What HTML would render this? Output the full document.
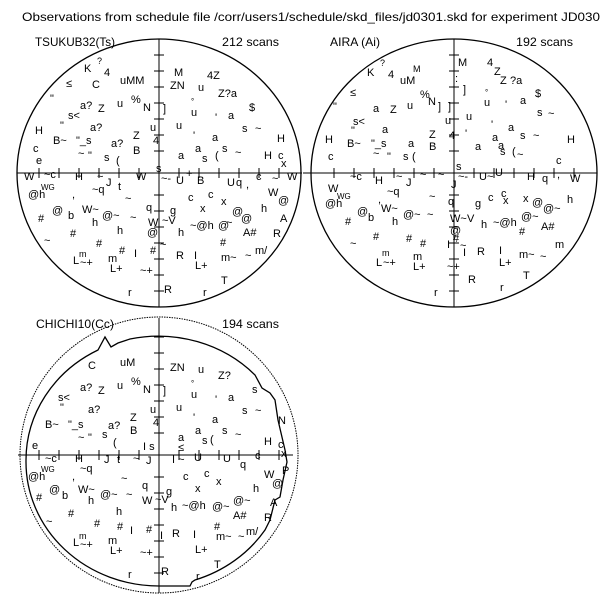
<!DOCTYPE html>
<html><head><meta charset="utf-8"><style>
html,body{margin:0;padding:0;background:#fff;}
svg{display:block;}
text{font-family:"Liberation Sans",sans-serif;fill:#000;}
.t{font-size:12px;}
.s{font-size:11px;}
</style></head><body>
<svg width="600" height="600" viewBox="0 0 600 600" xmlns="http://www.w3.org/2000/svg">
<rect width="600" height="600" fill="#fff"/>
<text class="t" x="22" y="21" textLength="578" lengthAdjust="spacingAndGlyphs">Observations from schedule file /corr/users1/schedule/skd_files/jd0301.skd for experiment JD030</text>
<text class="t" x="35" y="46" textLength="80" lengthAdjust="spacingAndGlyphs">TSUKUB32(Ts)</text>
<text class="t" x="222" y="46" textLength="57" lengthAdjust="spacingAndGlyphs">212 scans</text>
<text class="t" x="330" y="46" textLength="50" lengthAdjust="spacingAndGlyphs">AIRA (Ai)</text>
<text class="t" x="516" y="46" textLength="57" lengthAdjust="spacingAndGlyphs">192 scans</text>
<text class="t" x="36" y="328" textLength="78" lengthAdjust="spacingAndGlyphs">CHICHI10(Cc)</text>
<text class="t" x="222" y="328" textLength="57" lengthAdjust="spacingAndGlyphs">194 scans</text>

<!-- circles -->
<ellipse cx="159" cy="173" rx="142" ry="134" fill="none" stroke="#000" stroke-width="1.3"/>
<ellipse cx="454" cy="173" rx="143" ry="134" fill="none" stroke="#000" stroke-width="1.3"/>
<ellipse cx="159" cy="455" rx="139" ry="138" fill="none" stroke="#000" stroke-width="1" stroke-dasharray="1.5 1"/>
<path d="M26,461 A133,124 0 0 1 98,350 L105,337 L111,347 L118,343 L130,339 A133,124 0 0 1 255,375 L262,388 L270,393 L275,400 L278,420 L285,450 L287,462 L283,480 L280,497 L275,500 L270,520 L265,530 A133,124 0 0 1 195,580 L192,582 L190,586 L159,586 A133,124 0 0 1 26,461 Z" fill="none" stroke="#000" stroke-width="1.3"/>

<!-- axes -->
<g stroke="#000" stroke-width="1">
<line x1="159" y1="39" x2="159" y2="307"/><line x1="17" y1="173" x2="302" y2="173"/>
<line x1="454" y1="39" x2="454" y2="307"/><line x1="303" y1="173" x2="597" y2="173"/>
<line x1="159" y1="318" x2="159" y2="593"/><line x1="18" y1="455" x2="293" y2="455"/>
</g>
<g stroke="#000" stroke-width="1">
<path d="M154,55h10M154,71h10M154,87h10M154,103h10M154,119h10M154,135h10M154,151h10M154,195h10M154,211h10M154,227h10M154,243h10M154,259h10M154,275h10M154,291h10M39,168v10M59,168v10M79,168v10M99,168v10M119,168v10M139,168v10M179,168v10M199,168v10M219,168v10M239,168v10M259,168v10M279,168v10"/>
<path transform="translate(295,0)" d="M154,55h10M154,71h10M154,87h10M154,103h10M154,119h10M154,135h10M154,151h10M154,195h10M154,211h10M154,227h10M154,243h10M154,259h10M154,275h10M154,291h10M39,168v10M59,168v10M79,168v10M99,168v10M119,168v10M139,168v10M179,168v10M199,168v10M219,168v10M239,168v10M259,168v10M279,168v10"/>
<path transform="translate(0,282)" d="M154,55h10M154,71h10M154,87h10M154,103h10M154,119h10M154,135h10M154,151h10M154,195h10M154,211h10M154,227h10M154,243h10M154,259h10M154,275h10M154,291h10M39,168v10M59,168v10M79,168v10M99,168v10M119,168v10M139,168v10M179,168v10M199,168v10M219,168v10M239,168v10M259,168v10M279,168v10"/>
</g>

<!-- symbols circle 1 -->
<g class="s">
<text x="84" y="72">K</text><text x="97" y="64" font-size="9">?</text><text x="104" y="76">4</text><text x="120" y="84">uMM</text><text x="174" y="76">M</text>
<text x="66" y="87">≤</text><text x="92" y="88">C</text><text x="50" y="102">"</text><text x="80" y="109">a?</text><text x="98" y="112">Z</text><text x="117" y="107">u</text><text x="131" y="103">%</text><text x="143" y="111">N</text><text x="163" y="112">]</text>
<text x="170" y="89">ZN</text><text x="198" y="91">u</text><text x="207" y="79">4Z</text><text x="218" y="97">Z?a</text><text x="191" y="104" font-size="8">°</text><text x="191" y="116">u</text><text x="215" y="121">'</text><text x="228" y="119">a</text><text x="249" y="111">$</text>
<text x="35" y="134">H</text><text x="60" y="129">"</text><text x="68" y="119">s&lt;</text><text x="90" y="131">a?</text><text x="150" y="131">u</text><text x="176" y="129">u</text><text x="242" y="132">s</text><text x="255" y="132">~</text>
<text x="53" y="144">B~</text><text x="76" y="144">"_s</text><text x="111" y="147">a?</text><text x="133" y="139">Z</text><text x="153" y="144">4</text><text x="193" y="139">'</text><text x="212" y="141">a</text><text x="277" y="142">H</text>
<text x="33" y="152">c</text><text x="78" y="157">~</text><text x="88" y="159">"</text><text x="104" y="161">s</text><text x="116" y="164">(</text><text x="133" y="154">B</text><text x="178" y="159">a</text><text x="195" y="152">a</text><text x="202" y="162">s</text><text x="215" y="159">(</text><text x="222" y="152">s</text><text x="235" y="156">~</text><text x="264" y="159">H</text><text x="278" y="159">c</text>
<text x="36" y="164">e</text><text x="281" y="167">x</text>
<text x="24" y="180">W</text><text x="44" y="178">~c</text><text x="75" y="180">H</text><text x="97" y="180">~</text><text x="106" y="186">J</text><text x="118" y="190">t</text><text x="136" y="180">W</text><text x="156" y="172">s</text><text x="161" y="182">~-</text><text x="176" y="184">U</text><text x="186" y="177">+</text><text x="197" y="184">B</text><text x="227" y="186">U</text><text x="236" y="186">q</text><text x="246" y="188">,</text><text x="256" y="180">c</text><text x="272" y="182">~</text><text x="287" y="180">W</text>
<text x="28" y="198">@h</text><text x="41" y="190" font-size="8">WG</text><text x="72" y="198">,</text><text x="92" y="193">~q</text><text x="125" y="202">~</text><text x="146" y="211">q</text><text x="170" y="214">g</text><text x="188" y="201">c</text><text x="208" y="198">c</text><text x="200" y="212">x</text><text x="221" y="205">x</text><text x="261" y="212">h</text><text x="268" y="196">W</text><text x="278" y="204">@</text>
<text x="38" y="222">#</text><text x="52" y="214">@</text><text x="68" y="219">b</text><text x="82" y="213">W~</text><text x="92" y="226">h</text><text x="102" y="219">@~</text><text x="130" y="221">~</text><text x="148" y="226">W</text><text x="162" y="224">~V</text><text x="178" y="236">h</text><text x="190" y="229">~@h</text><text x="218" y="229">@</text><text x="226" y="226">~</text><text x="241" y="222">@</text><text x="232" y="215">@</text><text x="280" y="222">A</text>
<text x="44" y="244">~</text><text x="70" y="237">#</text><text x="117" y="234">h</text><text x="96" y="247">#</text><text x="119" y="254">#</text><text x="150" y="254">#</text><text x="147" y="236">@</text><text x="134" y="257">I</text><text x="176" y="259">R</text><text x="194" y="259">I</text><text x="221" y="261">m~</text><text x="245" y="259">~</text><text x="255" y="254">m/</text><text x="243" y="236">A#</text><text x="273" y="237">R</text><text x="220" y="246">#</text><text x="160" y="248">~</text>
<text x="73" y="264">L</text><text x="79" y="257" font-size="9">m</text><text x="80" y="266">~+</text><text x="108" y="262">m</text><text x="110" y="272">L+</text><text x="140" y="274">~+</text><text x="195" y="269">L+</text><text x="221" y="284">T</text><text x="164" y="293">R</text><text x="128" y="296">r</text><text x="203" y="296">r</text>
</g>

<!-- symbols circle 2 -->
<g class="s" transform="translate(295,0)">
<text x="72" y="76">K</text><text x="85" y="66" font-size="9">?</text><text x="93" y="78">4</text><text x="105" y="84">uM</text><text x="118" y="72" font-size="9">M</text><text x="163" y="66">M</text><text x="160" y="82">:</text>
<text x="55" y="96">≤</text><text x="38" y="110">"</text><text x="78" y="112">a</text><text x="95" y="113">Z</text><text x="112" y="109">u</text><text x="125" y="98">%</text><text x="133" y="105">N</text><text x="143" y="110">]</text><text x="153" y="110">]</text><text x="168" y="93">]</text>
<text x="192" y="66">4</text><text x="199" y="75">Z</text><text x="205" y="84">Z</text><text x="215" y="84">?a</text><text x="190" y="95" font-size="8">°</text><text x="189" y="106">u</text><text x="210" y="108">'</text><text x="225" y="104">a</text><text x="240" y="97">$</text><text x="242" y="116">s</text><text x="253" y="117">~</text>
<text x="58" y="125">s&lt;</text><text x="56" y="134">"</text><text x="87" y="133">a</text><text x="150" y="124">u</text><text x="171" y="120">u</text><text x="196" y="128">'</text><text x="213" y="131">a</text>
<text x="30" y="143">H</text><text x="52" y="147">B~</text><text x="76" y="147">"_s</text><text x="113" y="147">a</text><text x="134" y="138">Z</text><text x="154" y="139">4</text><text x="170" y="137">'</text><text x="197" y="141">a</text><text x="225" y="139">s</text><text x="238" y="139">~</text><text x="272" y="143">H</text>
<text x="33" y="160">c</text><text x="78" y="157">~</text><text x="92" y="160">"</text><text x="108" y="160">s</text><text x="117" y="160">(</text><text x="134" y="150">B</text><text x="180" y="150">a</text><text x="203" y="149">a</text><text x="205" y="155">s</text><text x="217" y="155">(</text><text x="222" y="158">~</text><text x="261" y="164">c</text>
<text x="33" y="192">W</text><text x="55" y="180">~c</text><text x="80" y="184">H</text><text x="101" y="180">~</text><text x="111" y="186">J</text><text x="125" y="178">~</text><text x="143" y="178">~</text><text x="161" y="170">s</text><text x="163" y="180">~-</text><text x="184" y="180">U~</text><text x="200" y="176">U</text><text x="232" y="180">H</text><text x="247" y="182">q</text><text x="262" y="178">,</text><text x="275" y="182">W</text><text x="156" y="188">J</text>
<text x="30" y="207">@h</text><text x="42" y="199" font-size="8">WG</text><text x="83" y="203">,</text><text x="92" y="195">~q</text><text x="134" y="200">~</text><text x="153" y="205">q</text><text x="180" y="207">g</text><text x="193" y="201">c</text><text x="206" y="197">c</text><text x="208" y="204">x</text><text x="228" y="202">x</text><text x="272" y="203">h</text><text x="237" y="206">@</text>
<text x="50" y="225">#</text><text x="62" y="215">@</text><text x="73" y="221">b</text><text x="86" y="212">W~</text><text x="97" y="225">h</text><text x="108" y="218">@~</text><text x="132" y="218">~</text><text x="155" y="222">W~</text><text x="172" y="222">V</text><text x="186" y="228">h</text><text x="198" y="226">~@h</text><text x="226" y="220">@~</text><text x="248" y="212">@~</text><text x="246" y="230">A#</text><text x="155" y="234">@</text>
<text x="55" y="247">~</text><text x="78" y="240">#</text><text x="111" y="242">#</text><text x="125" y="247">#</text><text x="152" y="248">I</text><text x="158" y="242">#</text><text x="165" y="249">~</text><text x="168" y="256">I</text><text x="182" y="255">R</text><text x="204" y="254">I</text><text x="224" y="258">m~</text><text x="245" y="260">~</text><text x="260" y="248">m</text><text x="224" y="235">#</text>
<text x="81" y="266">L</text><text x="87" y="256" font-size="9">m</text><text x="88" y="266">~+</text><text x="118" y="260">m</text><text x="118" y="270">L+</text><text x="152" y="270">~+</text><text x="204" y="266">L+</text><text x="228" y="279">T</text><text x="173" y="283">R</text><text x="139" y="296">r</text><text x="205" y="291">r</text>
</g>

<!-- symbols circle 3 -->
<g class="s" transform="translate(0,282)">
<text x="88" y="87">C</text><text x="120" y="84">uM</text><text x="170" y="89">ZN</text><text x="198" y="91">u</text><text x="218" y="97">Z?</text>
<text x="80" y="109">a?</text><text x="98" y="112">Z</text><text x="117" y="107">u</text><text x="131" y="103">%</text><text x="143" y="111">N</text><text x="163" y="112">]</text><text x="191" y="104" font-size="8">°</text><text x="191" y="116">u</text><text x="215" y="121">'</text><text x="228" y="119">a</text><text x="252" y="111">s</text>
<text x="60" y="129">"</text><text x="58" y="119">s&lt;</text><text x="88" y="131">a?</text><text x="150" y="131">u</text><text x="176" y="129">u</text><text x="242" y="132">s</text><text x="255" y="132">~</text><text x="278" y="142">N</text>
<text x="45" y="146">B~</text><text x="68" y="146">"_s</text><text x="108" y="147">a?</text><text x="130" y="139">Z</text><text x="153" y="144">4</text><text x="193" y="139">'</text><text x="212" y="141">a</text>
<text x="78" y="159">~</text><text x="88" y="159">"</text><text x="102" y="156">s</text><text x="113" y="164">(</text><text x="130" y="152">B</text><text x="178" y="159">a</text><text x="195" y="152">a</text><text x="202" y="162">s</text><text x="210" y="161">(</text><text x="222" y="152">s</text><text x="235" y="156">~</text><text x="264" y="163">H</text><text x="278" y="166">c</text><text x="32" y="167">e</text><text x="143" y="168">I s</text><text x="178" y="169">≤</text><text x="281" y="175">x</text>
<text x="45" y="180">~c</text><text x="75" y="180">H</text><text x="104" y="181">J</text><text x="117" y="181">t</text><text x="133" y="180">~</text><text x="146" y="182">J</text><text x="172" y="181">I ~</text><text x="194" y="179">U</text><text x="223" y="180">U</text><text x="240" y="186">q</text><text x="255" y="177">c</text><text x="282" y="192">P</text>
<text x="28" y="198">@h</text><text x="41" y="190" font-size="8">WG</text><text x="72" y="198">,</text><text x="80" y="190">~q</text><text x="121" y="200">~</text><text x="142" y="207">q</text><text x="166" y="213">g</text><text x="183" y="198">c</text><text x="204" y="195">c</text><text x="195" y="210">x</text><text x="216" y="203">x</text><text x="253" y="210">h</text><text x="264" y="196">W</text><text x="272" y="205">@</text>
<text x="36" y="219">#</text><text x="49" y="211">@</text><text x="62" y="217">b</text><text x="78" y="211">W~</text><text x="88" y="222">h</text><text x="100" y="216">@~</text><text x="126" y="216">~</text><text x="142" y="222">W</text><text x="155" y="221">~V</text><text x="171" y="229">h</text><text x="182" y="227">~@h</text><text x="212" y="228">@~</text><text x="233" y="222">@~</text><text x="270" y="224">A</text>
<text x="46" y="243">~</text><text x="68" y="235">#</text><text x="116" y="233">h</text><text x="94" y="245">#</text><text x="117" y="248">#</text><text x="146" y="251">#</text><text x="130" y="252">I</text><text x="160" y="257">I</text><text x="172" y="255">R</text><text x="193" y="256">I</text><text x="216" y="258">m~</text><text x="238" y="258">~</text><text x="246" y="253">m/</text><text x="233" y="237">A#</text><text x="264" y="239">R</text><text x="214" y="248">#</text>
<text x="73" y="264">L</text><text x="79" y="257" font-size="9">m</text><text x="80" y="266">~+</text><text x="108" y="262">m</text><text x="110" y="272">L+</text><text x="140" y="274">~+</text><text x="195" y="271">L+</text><text x="214" y="286">T</text><text x="161" y="293">R</text><text x="128" y="296">r</text><text x="196" y="298">r</text>
</g>
</svg>
</body></html>
